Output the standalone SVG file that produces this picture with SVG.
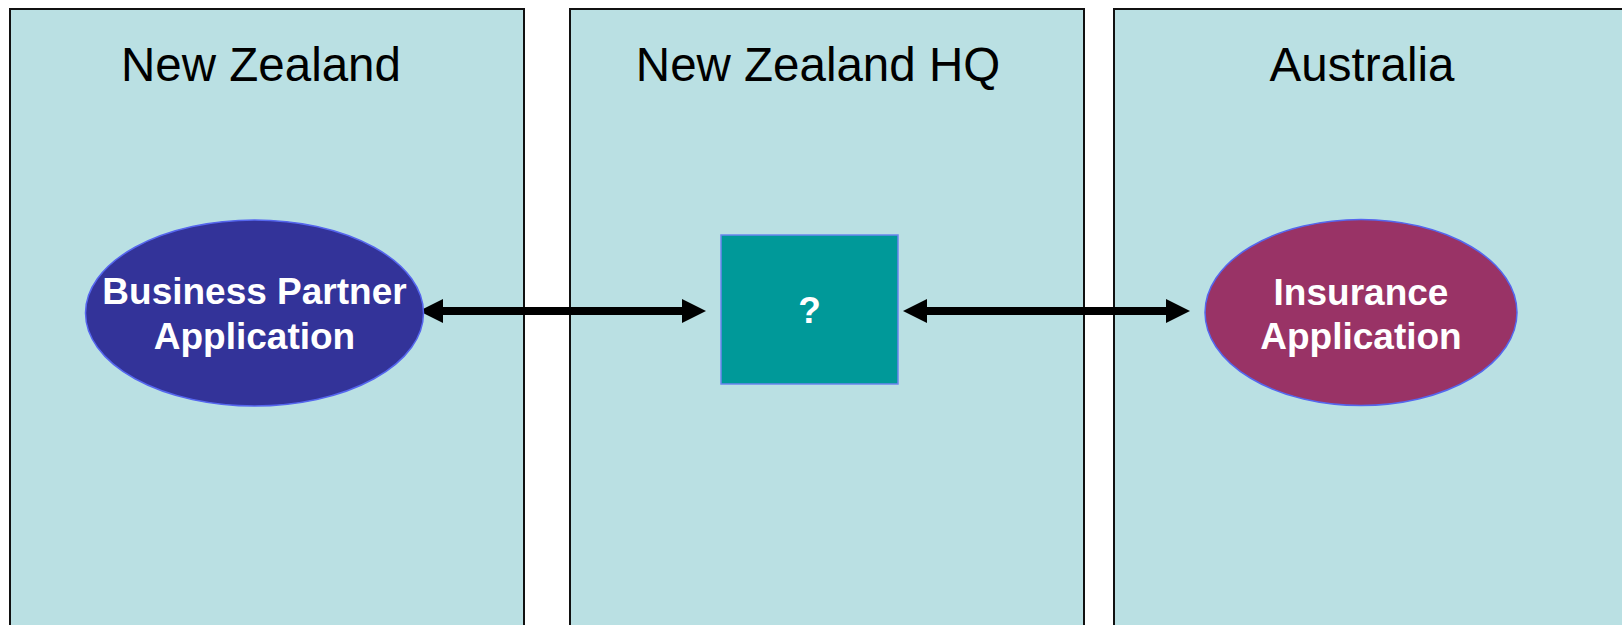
<svg xmlns="http://www.w3.org/2000/svg" width="1622" height="625" viewBox="0 0 1622 625">
<style>
.panel{fill:#BAE0E3;stroke:#111;stroke-width:2}
.title{font-family:"Liberation Sans",Arial,sans-serif;font-size:47.5px;fill:#000;text-anchor:middle}
.lbl{font-family:"Liberation Sans",Arial,sans-serif;font-size:37px;font-weight:bold;fill:#fff;text-anchor:middle}
.conn{stroke:#000;stroke-width:8;fill:none;marker-start:url(#ah);marker-end:url(#ah)}
</style>
<defs>
<marker id="ah" markerUnits="userSpaceOnUse" markerWidth="26" markerHeight="26" viewBox="0 -13 26 26" refX="0" refY="0" orient="auto-start-reverse">
<path d="M0,-12 L24,0 L0,12 z" fill="#000"/>
</marker>
</defs>
<rect width="1622" height="625" fill="#fff"/>
<g id="panel-nz">
<rect class="panel" x="10" y="9" width="514" height="700"/>
<text class="title" x="261" y="80.5">New Zealand</text>
</g>
<g id="panel-hq">
<rect class="panel" x="570" y="9" width="514" height="700"/>
<text class="title" x="818" y="80.5">New Zealand HQ</text>
</g>
<g id="panel-au">
<rect class="panel" x="1114" y="9" width="600" height="700"/>
<text class="title" x="1362" y="80.5">Australia</text>
</g>
<g id="connectors">
<line class="conn" x1="443" y1="311" x2="682" y2="311"/>
<line class="conn" x1="927" y1="311" x2="1166" y2="311"/>
</g>
<g id="node-bp">
<ellipse cx="254.5" cy="313" rx="169" ry="93" fill="#333399" stroke="#5566EE" stroke-width="1.5"/>
<text class="lbl" x="254.5" y="304">Business Partner</text>
<text class="lbl" x="254.5" y="348.5">Application</text>
</g>
<g id="node-q">
<rect x="721" y="235" width="177" height="149" fill="#009999" stroke="#6B85EE" stroke-width="1.5"/>
<text class="lbl" x="809.5" y="323">?</text>
</g>
<g id="node-ins">
<ellipse cx="1361" cy="312.5" rx="156" ry="93" fill="#993366" stroke="#5566EE" stroke-width="1.5"/>
<text class="lbl" x="1361" y="305">Insurance</text>
<text class="lbl" x="1361" y="348.5">Application</text>
</g>
</svg>
